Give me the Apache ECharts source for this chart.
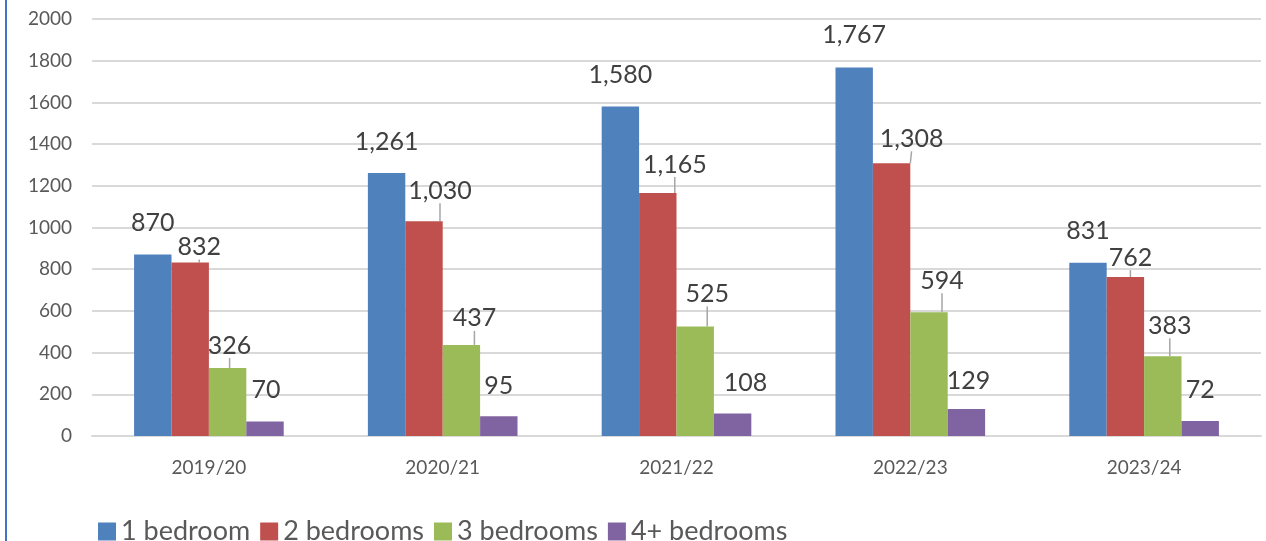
<!DOCTYPE html>
<html>
<head>
<meta charset="utf-8">
<script src="https://cdn.jsdelivr.net/npm/echarts@6/dist/echarts.min.js"></script>
<style>
    html, body { margin: 0; padding: 0; background: #fff; }
    #container { width: 1266px; height: 541px; }
</style>
</head>
<body>
<div id="container"></div>
<script>
// 数据
var years = ['2019/20', '2020/21', '2021/22', '2022/23', '2023/24']
var seriesNames = ['1 bedroom', '2 bedrooms', '3 bedrooms', '4+ bedrooms']
var oneBed = [870, 1261, 1580, 1767, 831]
var twoBed = [832, 1030, 1165, 1308, 762]
var threeBed = [326, 437, 525, 594, 383]
var fourBed = [70, 95, 108, 129, 72]
var yTicks = [0, 200, 400, 600, 800, 1000, 1200, 1400, 1600, 1800, 2000]

var colors = ['#4F81BD', '#C0504D', '#9BBB59', '#8064A2']

// 标签偏移 [dx, dy], 按系列 -> 年份
var nudge = [
    [[0, -19], [0, -19], [0, -19], [0, -20], [0, -19]],
    [[9, -3], [16, -18], [17, -16], [20, -12], [5, -7]],
    [[2, -10], [13, -14], [12, -20], [13, -19], [7, -18]],
    [[1, -19], [0, -18], [13, -18], [2, -16], [0, -19]],
]
var showLine = [false, true, true, false]

var fmt = function (v) {
    return Number(v).toLocaleString('en-US')
}

var makeSeries = function (name, values, i) {
    return {
        name: name,
        type: 'bar',
        data: values,
        barGap: '0%',
        barCategoryGap: '36%',
        itemStyle: { color: colors[i] },
        label: {
            show: true,
            position: 'top',
            distance: 0,
            fontFamily: 'Lato',
            fontSize: 25,
            color: '#404040',
            formatter: function (p) {
                return fmt(p.value)
            },
        },
        labelLayout: function (p) {
            var n = nudge[i][p.dataIndex]
            return { dx: n[0], dy: n[1] }
        },
        labelLine: {
            show: showLine[i],
            lineStyle: { color: '#a6a6a6', width: 1.5 },
        },
    }
}

var chart = echarts.init(document.getElementById('container'))

var option = {
    animation: false,
    textStyle: { fontFamily: 'Lato' },
    grid: { left: 92, right: 5, top: 19, bottom: 105, containLabel: false },
    legend: {
        left: 93,
        top: 513,
        itemWidth: 18,
        itemHeight: 18,
        itemGap: 10,
        icon: 'rect',
        textStyle: { fontSize: 27, color: '#595959' },
        data: seriesNames,
    },
    xAxis: {
        type: 'category',
        data: years,
        axisLine: { lineStyle: { color: '#d9d9d9', width: 2 } },
        axisTick: { show: false },
        axisLabel: { fontSize: 19, color: '#595959', margin: 22 },
    },
    yAxis: {
        type: 'value',
        min: yTicks[0],
        max: yTicks[yTicks.length - 1],
        interval: yTicks[1] - yTicks[0],
        axisLine: { show: false },
        axisTick: { show: false },
        axisLabel: {
            fontSize: 19,
            color: '#595959',
            margin: 20,
            formatter: function (v) {
                return String(v)
            },
        },
        splitLine: { lineStyle: { color: '#d9d9d9', width: 2 } },
    },
    graphic: [{
        type: 'line',
        shape: { x1: 6, y1: 0, x2: 6, y2: 541 },
        style: { stroke: '#4472C4', lineWidth: 2 },
    }],
    series: [
        makeSeries(seriesNames[0], oneBed, 0),
        makeSeries(seriesNames[1], twoBed, 1),
        makeSeries(seriesNames[2], threeBed, 2),
        makeSeries(seriesNames[3], fourBed, 3),
    ],
}

chart.setOption(option)
</script>
</body>
</html>
